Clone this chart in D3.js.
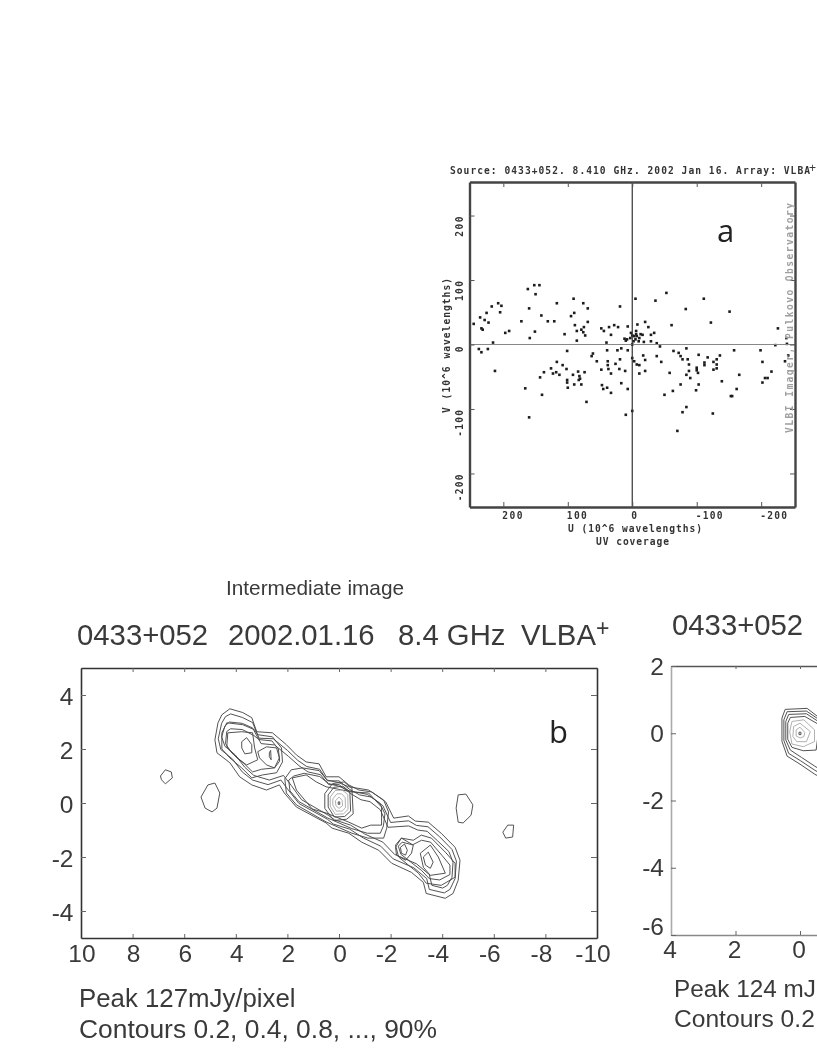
<!DOCTYPE html>
<html><head><meta charset="utf-8">
<script src="https://cdn.jsdelivr.net/npm/d3@7"></script>
<style>
html,body{margin:0;padding:0;background:#fff;overflow:hidden}
svg{display:block;filter:blur(0.3px)}
text{font-family:"Liberation Sans",Arial,sans-serif;fill:#3a3a3a}
.px{font-family:"DejaVu Sans Mono",monospace;font-weight:bold}
</style></head><body>
<svg id="c" width="817" height="1058"></svg>
<script>
// ---- Panel a: UV coverage, [U, V] in 10^6 wavelengths
const uvPoints = [
[246,32],[236,42],[234,25],[232,23],[229,38],[226,49],[223,34],[218,59],[208,64],[203,60],[205,50],[216,3],[197,18],[191,21],[172,36],[162,86],[160,56],[159,10],[152,92],[144,92],[150,78],[151,20],[141,45],[131,36],[121,36],[117,64],[105,16],[95,44],[90,49],[91,71],[89,30],[86,21],[86,6],[79,23],[76,19],[75,27],[76,64],[69,56],[69,35],[73,14],[48,25],[44,21],[36,27],[33,15],[28,30],[22,27],[19,59],[40,3],[12,9],[7,28],[8,8],[-5,71],[-8,31],[-6,21],[-20,35],[-25,27],[-36,68],[-53,80],[-16,15],[-29,15],[-34,18],[-29,5],[-18,4],[-61,30],[-83,55],[-111,71],[-122,34],[-151,51],[-226,25],[-239,10],
[0,14],[-3,13],[-7,13],[-11,10],[-2,5],[-5,8],[-10,5],[0,0],[3,10],[-6,16],[2,18],[-38,2],[-43,-3],[10,6],[-13,16],
[238,-7],[234,-12],[224,-7],[101,-10],[61,-14],[63,-18],[39,-9],[23,-9],[17,-6],[7,-9],[-17,-17],[-38,-18],[-64,-10],[-72,-13],[-75,-18],[-84,-6],[-103,-16],[-117,-20],[-136,-17],[-158,-9],[-199,-9],[-222,-1],[-240,1],
[213,-41],[166,-68],[160,-113],[143,-51],[137,-43],[140,-78],[126,-37],[123,-45],[118,-43],[117,-27],[113,-47],[108,-32],[102,-38],[101,-55],[101,-59],[100,-67],[92,-47],[90,-62],[84,-42],[74,-43],[82,-49],[81,-53],[83,-55],[79,-62],[71,-89],[55,-26],[48,-39],[47,-63],[45,-69],[39,-67],[38,-26],[38,-32],[37,-38],[33,-45],[33,-75],[26,-30],[19,-23],[20,-38],[17,-60],[11,-41],[7,-69],[10,-109],[0,-103],[0,-21],[-3,-26],[-7,-31],[-11,-32],[-11,-45],[-20,-24],[-20,-41],[-45,-27],[-50,-78],[-58,-44],[-63,-72],[-70,-134],[-75,-62],[-78,-105],[-84,-97],[-84,-47],[-78,-23],[-86,-23],[-88,-31],[-88,-41],[-90,-52],[-99,-71],[-100,-36],[-100,-40],[-102,-44],[-103,-62],[-112,-28],[-112,-32],[-125,-107],[-126,-27],[-131,-23],[-131,-31],[-126,-39],[-131,-37],[-139,-57],[-153,-80],[-155,-80],[-162,-69],[-166,-47],[-202,-27],[-202,-59],[-206,-52],[-210,-52],[-216,-42],[-237,-26],[-242,-17]
];
const uvTicks = [200,100,0,-100,-200];
const titleA = "Source: 0433+052. 8.410 GHz. 2002 Jan 16. Array: VLBA";
const uLabel = "U (10^6 wavelengths)";
const vLabel = "V (10^6 wavelengths)";
const capA = "UV coverage";
const sideA = "VLBI Imager, Pulkovo Observatory";

// ---- Panel b: contour rings, [x, y] in map units
const bOuter1 = [[4.54,3.27],[4.23,3.49],[3.73,3.35],[3.38,3.16],[3.19,2.64],[2.58,2.6],[2.04,2.16],[1.65,1.78],[1.27,1.52],[.77,1.45],[.5,.97],[0,.97],[-.38,.67],[-.77,.48],[-1.27,.41],[-1.81,.04],[-2.12,-.56],[-2.69,-.48],[-2.96,-.67],[-3.46,-.71],[-3.96,-1.12],[-4.5,-1.64],[-4.69,-2.12],[-4.62,-2.86],[-4.42,-3.35],[-4.12,-3.53],[-3.38,-3.35],[-3.27,-2.94],[-2.81,-2.57],[-2.04,-2.23],[-1.54,-1.75],[-.88,-1.45],[-.38,-1.12],[.27,-.93],[.5,-.74],[1.65,-.15],[2.12,.37],[2.31,.67],[2.81,.48],[3.38,.67],[3.85,.97],[4.23,1.49],[4.73,1.86],[4.81,2.34],[4.69,2.97]];
const bOuter2 = [[4.4,3.2],[4.2,3.3],[3.75,3.17],[3.35,2.98],[3.1,2.4],[2.55,2.38],[2,1.95],[1.6,1.58],[1.25,1.35],[.75,1.25],[.45,.82],[0,.82],[-.42,.5],[-.8,.3],[-1.25,.22],[-1.7,-.1],[-2,-.72],[-2.7,-.66],[-3,-.83],[-3.45,-.88],[-3.9,-1.25],[-4.38,-1.72],[-4.55,-2.15],[-4.5,-2.8],[-4.3,-3.2],[-4.08,-3.33],[-3.5,-3.2],[-3.4,-2.8],[-2.9,-2.4],[-2.1,-2.07],[-1.62,-1.6],[-.95,-1.3],[-.42,-.97],[.22,-.78],[.45,-.6],[1.55,-.02],[1.98,.5],[2.25,.85],[2.75,.68],[3.35,.85],[3.75,1.15],[4.12,1.62],[4.58,1.98],[4.68,2.38],[4.55,2.95]];
const bOuter3 = [[4.25,3],[3.75,2.95],[3.35,2.78],[3.02,2.2],[2.5,2.15],[1.95,1.72],[1.55,1.38],[1.2,1.15],[.72,1.05],[.4,.68],[0,.68],[-.45,.35],[-.85,.12],[-1.2,.05],[-1.6,-.25],[-1.9,-.9],[-2.7,-.85],[-3.05,-1],[-3.42,-1.05],[-3.82,-1.4],[-4.26,-1.8],[-4.42,-2.2],[-4.38,-2.75],[-4.2,-3.05],[-4.02,-3.15],[-3.6,-3.05],[-3.5,-2.65],[-3,-2.25],[-2.15,-1.9],[-1.7,-1.45],[-1,-1.15],[-.45,-.82],[.18,-.62],[.42,-.45],[1.45,.12],[1.85,.65],[2.15,1.02],[2.7,.85],[3.3,1.02],[3.65,1.32],[4.02,1.78],[4.42,2.1],[4.55,2.45],[4.42,2.85]];
const bLeftA = [[4.54,2.6],[4.35,2.97],[3.73,2.9],[3.27,2.71],[3.15,2.53],[2.58,2.45],[2.23,2.04],[2.19,1.52],[2.42,1.12],[2.96,1.04],[3.38,.93],[3.77,1.3],[4.23,1.67],[4.54,2]];
const bLeftB = [[4.35,2.65],[4.2,2.75],[3.75,2.72],[3.3,2.5],[3.1,2.35],[2.6,2.3],[2.35,2],[2.3,1.55],[2.5,1.3],[3,1.25],[3.35,1.15],[3.72,1.5],[4.15,1.85],[4.4,2.2]];
const bLeftC = [[4.31,2.6],[3.77,2.64],[3.35,2.6],[3.27,2.04],[3.15,1.6],[3.58,1.41],[3.96,1.67],[4.35,2.08]];
const bPeak2o = [[3.15,1.9],[2.81,2.08],[2.42,2.04],[2.31,1.67],[2.5,1.3],[2.81,1.41],[3.08,1.67]];
const bPeak1 = [[3.77,2.27],[3.58,2.42],[3.38,2.16],[3.38,1.86],[3.65,1.82],[3.77,2.04]];
const bPeak2 = [[2.7,1.86],[2.65,1.95],[2.63,1.6],[2.7,1.72]];
const bIsleA = [[6.92,1],[6.73,1.23],[6.5,1.15],[6.46,.93],[6.73,.71],[6.88,.86]];
const bIsleB = [[5.35,.22],[5.08,.67],[4.81,.74],[4.62,.37],[4.73,-.19],[4.92,-.33],[5.19,-.19]];
const bIsleC = [[-4.62,.3],[-4.92,.33],[-5.19,-.07],[-5.12,-.45],[-4.81,-.74],[-4.62,-.71],[-4.54,-.19]];
const bIsleD = [[-6.35,-1.08],[-6.54,-.82],[-6.77,-.82],[-6.73,-1.26],[-6.46,-1.3]];
const bRightA = [[-2.19,-1.56],[-2.42,-1.3],[-2.88,-1.38],[-3.19,-1.19],[-3.58,-1.3],[-4.12,-1.82],[-4.5,-2.23],[-4.5,-2.75],[-3.96,-3.05],[-3.38,-2.97],[-3.08,-2.6],[-2.69,-2.3],[-2.31,-2]];
const bRightB = [[-2.3,-1.6],[-2.45,-1.45],[-2.85,-1.55],[-3.2,-1.38],[-3.55,-1.45],[-4,-1.95],[-4.3,-2.3],[-4.3,-2.65],[-3.9,-2.85],[-3.5,-2.8],[-3.2,-2.5],[-2.8,-2.2],[-2.4,-1.9]];
const bPeak3o = [[-2.19,-1.64],[-2.42,-1.3],[-2.88,-1.56],[-2.81,-1.86],[-2.58,-2.12],[-2.23,-1.93]];
const bPeak3 = [[-2.38,-1.64],[-2.54,-1.52],[-2.65,-1.75],[-2.58,-1.93],[-2.42,-1.86]];
const bPeak4o = [[-3.15,-1.86],[-3.54,-1.56],[-3.85,-2],[-4.12,-2.6],[-3.54,-2.68],[-3.27,-2.38]];
const bPeak4 = [[-3.27,-2],[-3.46,-1.82],[-3.65,-2.19],[-3.54,-2.42],[-3.35,-2.3]];
const bMidA = [[1.85,1.23],[1.42,1.3],[.77,1.2],[.46,.85],[0,.75],[-.38,.6],[-1.15,.48],[-1.73,.11],[-1.92,-.33],[-1.85,-.93],[-1.73,-1.3],[-1.12,-1.3],[-.5,-1.12],[.5,-.7],[1.65,-.07],[2.04,.37],[2.1,.9]];
const bMidB = [[1.75,1],[1.35,1.1],[.75,.98],[.4,.72],[0,.62],[-.4,.45],[-1.1,.32],[-1.58,0],[-1.78,-.4],[-1.72,-.85],[-1.6,-1.12],[-1.1,-1.12],[-.5,-.95],[.45,-.55],[1.55,.05],[1.9,.45],[1.95,.85]];
const bMidC = [[1.81,.93],[1.27,1.04],[.88,.78],[.5,.6],[-.5,.41],[-1.15,.37],[-1.65,-.15],[-1.65,-.82],[-1.23,-.82],[-.88,-.93],[-.38,-.71],[.5,-.37],[1.04,-.22],[1.65,.48]];
const bCoreA = [[.55,.35],[.25,.72],[-.2,.78],[-.5,.55],[-.55,-.4],[-.3,-.6],[.2,-.65],[.55,-.2]];
const bCoreB = [[.42,.3],[.2,.58],[-.15,.62],[-.42,.42],[-.45,-.3],[-.22,-.5],[.18,-.52],[.42,-.15]];
const bCoreC = [[.34,.22],[.15,.46],[-.12,.48],[-.34,.32],[-.35,-.24],[-.18,-.4],[.14,-.42],[.34,-.12]];
const bCoreD = [[.24,.15],[.08,.34],[-.1,.34],[-.24,.2],[-.25,-.18],[-.12,-.3],[.1,-.3],[.24,-.08]];
const bCoreE = [[.14,.08],[0,.22],[-.12,.1],[-.14,-.1],[0,-.2],[.12,-.1]];
const bCoreF = [[.03,.04],[-.03,.04],[-.03,-.05],[.03,-.05]];
const bDark = [bOuter1,bOuter2,bOuter3,bLeftA,bLeftB,bLeftC,bPeak2o,bPeak1,bPeak2,bIsleA,bIsleB,bIsleC,bIsleD,bRightA,bRightB,bPeak3o,bPeak3,bPeak4o,bPeak4,bMidA,bMidB,bMidC,bCoreA,bCoreB,bCoreF];
const bLight = [bCoreC,bCoreD,bCoreE];

// ---- Panel c: contour rings running off the right-hand edge
const cRing1 = [[-.53,.51],[-.22,.74],[.46,.71],[.56,.45],[.56,-.24],[.4,-.68],[0,-.92],[-.46,-1.22],[-1,-1.5],[-1,.3]];
const cRing2 = [[-.6,.4],[-.2,.66],[.4,.64],[.5,.4],[.5,-.22],[.35,-.6],[-.02,-.82],[-.46,-1.1],[-1,-1.4],[-1,.2]];
const cRing3 = [[-.6,.33],[-.2,.58],[.35,.56],[.44,.35],[.44,-.2],[.3,-.5],[-.05,-.72],[-.46,-.98],[-1,-1.3],[-1,.1]];
const cRing4 = [[-.6,.25],[-.15,.5],[.3,.47],[.38,.3],[.38,-.18],[.25,-.42],[-.1,-.52],[-.5,-.5]];
const cRing5 = [[-.45,.1],[-.12,.4],[.25,.35],[.32,.05],[.25,-.32],[-.1,-.4],[-.45,-.25]];
const cRing6 = [[-.32,.05],[0,.3],[.2,.2],[.22,-.1],[.1,-.25],[-.2,-.25]];
const cRing7 = [[-.15,.02],[0,.18],[.12,.1],[.12,-.08],[0,-.14],[-.12,-.1]];
const cRing8 = [[.03,.03],[-.03,.03],[-.03,-.04],[.03,-.04]];
const cDark = [cRing1,cRing2,cRing3,cRing4,cRing8];
const cLight = [cRing5,cRing6,cRing7];

const bXTicks = [10,8,6,4,2,0,-2,-4,-6,-8,-10];
const bYTicks = [4,2,0,-2,-4];
const cXTicks = [4,2,0];
const cYTicks = [2,0,-2,-4,-6];

const svg = d3.select("#c");
const line = (x,y)=>d3.line().x(d=>x(d[0])).y(d=>y(d[1])).curve(d3.curveLinearClosed);
function cleanAxis(g,color,dom){
  g.selectAll(".tick line").attr("stroke",color);
  g.select(".domain").attr("stroke",dom).attr("stroke-width",g.attr("data-w")||1.6);
  g.selectAll(".tick text").remove();
}

// ---------- Panel a
const ax = d3.scaleLinear().domain([252.5,-252.5]).range([469.5,795]);
const ay = d3.scaleLinear().domain([252,-252]).range([182,507]);
const ga = svg.append("g").style("filter","blur(0.4px)");
ga.append("g").selectAll("rect").data(uvPoints).join("rect")
  .attr("x",d=>ax(d[0])-1.3).attr("y",d=>ay(d[1])-1.3).attr("width",2.6).attr("height",2.6).attr("fill","#1c1c1c");
ga.append("line").attr("x1",ax.range()[0]).attr("x2",ax.range()[1]).attr("y1",ay(0)).attr("y2",ay(0)).attr("stroke","#888").attr("stroke-width",1);
ga.append("line").attr("x1",ax(0)).attr("x2",ax(0)).attr("y1",ay.range()[0]).attr("y2",ay.range()[1]).attr("stroke","#333").attr("stroke-width",1.2);
[[d3.axisBottom(ax),507,true],[d3.axisTop(ax),182,true],[d3.axisLeft(ay),469.5,false],[d3.axisRight(ay),795,false]].forEach(([a,p,h])=>{
  const g = ga.append("g").attr("transform",h?`translate(0,${p})`:`translate(${p},0)`)
    .attr("data-w",2.4).call(a.tickValues(uvTicks).tickSizeOuter(0));
  g.selectAll(".tick line").attr("y2",h?(p>300?-5:5):0).attr("x2",h?0:(p<600?5:-5));
  cleanAxis(g,"#555","#444");
});
const pxText=(g,s,x,y,len,rot,fill)=>{
  const t=g.append("text").attr("class","px").text(s).attr("font-size",9.6).attr("textLength",len).attr("lengthAdjust","spacing")
   .style("fill",fill||"#333");
  if(rot) t.attr("transform",`translate(${x},${y}) rotate(-90)`); else t.attr("x",x).attr("y",y);
  return t;
};
pxText(ga,titleA,450,174,360);
ga.append("text").text("+").attr("x",809).attr("y",172).attr("font-size",12);
uvTicks.forEach(v=>{
  const s=String(v);
  pxText(ga,s,ax(v)-1,519,s.length*6.7);
  pxText(ga,s,463,ay(v)+1+s.length*6.7,s.length*6.7,true);
});
pxText(ga,uLabel,568,532,134);
pxText(ga,capA,596,545,73);
pxText(ga,vLabel,450,413,135,true);
pxText(ga,sideA,793,433,230,true,"#a0a0a0");
ga.append("text").text("a").attr("x",717).attr("y",242).attr("font-size",31).style("font-family","'Open Sans',sans-serif").style("fill","#222");

// ---------- Panel b
const bx = d3.scaleLinear().domain([10,-10]).range([81,597]);
const by = d3.scaleLinear().domain([5,-5]).range([668,938]);
const gb = svg.append("g");
const bl = line(bx,by);
gb.append("g").selectAll("path").data(bDark).join("path").attr("d",bl).attr("fill","none").attr("stroke","#4a4a4a").attr("stroke-width",.95);
gb.append("g").selectAll("path").data(bLight).join("path").attr("d",bl).attr("fill","none").attr("stroke","#a8a8a8").attr("stroke-width",.9);
[[d3.axisBottom(bx).tickValues(bXTicks),938,"h",-4],[d3.axisTop(bx).tickValues(bXTicks),668,"h",4],[d3.axisLeft(by).tickValues(bYTicks),81,"v",5],[d3.axisRight(by).tickValues(bYTicks),597,"v",-6]].forEach(([a,p,o,l])=>{
  const g=gb.append("g").attr("transform",o=="h"?`translate(0,${p})`:`translate(${p},0)`).call(a.tickSizeOuter(0));
  g.selectAll(".tick line").attr(o=="h"?"y2":"x2",l);
  cleanAxis(g,"#666","#333");
});
const txt=(s,x,y,fs,anchor)=>svg.append("text").text(s).attr("x",x).attr("y",y).attr("font-size",fs).attr("text-anchor",anchor||"start");
bXTicks.forEach(v=>txt(String(v),bx(v)+(v<0?-4:1),962,24.5,"middle"));
bYTicks.forEach(v=>txt(String(v),73.5,by(v)+9.5,24.5,"end"));
txt("Intermediate image",226,595,20.8);
txt("0433+052",77,645,29.3);
txt("2002.01.16",228,645,29.3);
txt("8.4 GHz",398,645,29.3);
txt("VLBA",521,645,29.3);
txt("+",596,636,23);
txt("b",549,743,31).style("font-family","'Open Sans',sans-serif").style("fill","#222");
txt("Peak 127mJy/pixel",79,1007,25.8);
txt("Contours 0.2, 0.4, 0.8, ..., 90%",79,1038,26.4);

// ---------- Panel c
const cx = d3.scaleLinear().domain([4,0]).range([671,800]);
const cy = d3.scaleLinear().domain([2,-6]).range([666,935]);
const gc = svg.append("g");
const cl = line(cx,cy);
gc.append("g").selectAll("path").data(cDark).join("path").attr("d",cl).attr("fill","none").attr("stroke","#4a4a4a").attr("stroke-width",.95);
gc.append("g").selectAll("path").data(cLight).join("path").attr("d",cl).attr("fill","none").attr("stroke","#a8a8a8").attr("stroke-width",.9);
const cxEnd = 820;
const cxA = d3.scaleLinear().domain([4,4-(cxEnd-671)/32.25]).range([671,cxEnd]);
[[d3.axisBottom(cxA).tickValues(cXTicks),935,-4,"#888"],[d3.axisTop(cxA).tickValues(cXTicks),666,3,"#555"]].forEach(([a,p,l,c])=>{
  const g=gc.append("g").attr("transform",`translate(0,${p})`).call(a.tickSizeOuter(0));
  g.selectAll(".tick line").attr("y2",l);
  cleanAxis(g,"#666",c);
});
const gl=gc.append("g").attr("transform","translate(671,0)").call(d3.axisLeft(cy).tickValues(cYTicks).tickSizeOuter(0));
gl.selectAll(".tick line").attr("x2",5);
cleanAxis(gl,"#666","#aaa");
cXTicks.forEach(v=>txt(String(v),cx(v)-1,958,24.5,"middle"));
cYTicks.forEach(v=>txt(String(v),664,cy(v)+(v==-6?0:8.5),24.5,"end"));
txt("0433+052",672,635,29.3);
txt("Peak 124 mJ",674,997,24.3);
txt("Contours 0.2",674,1027,24.6);
</script>
</body></html>
